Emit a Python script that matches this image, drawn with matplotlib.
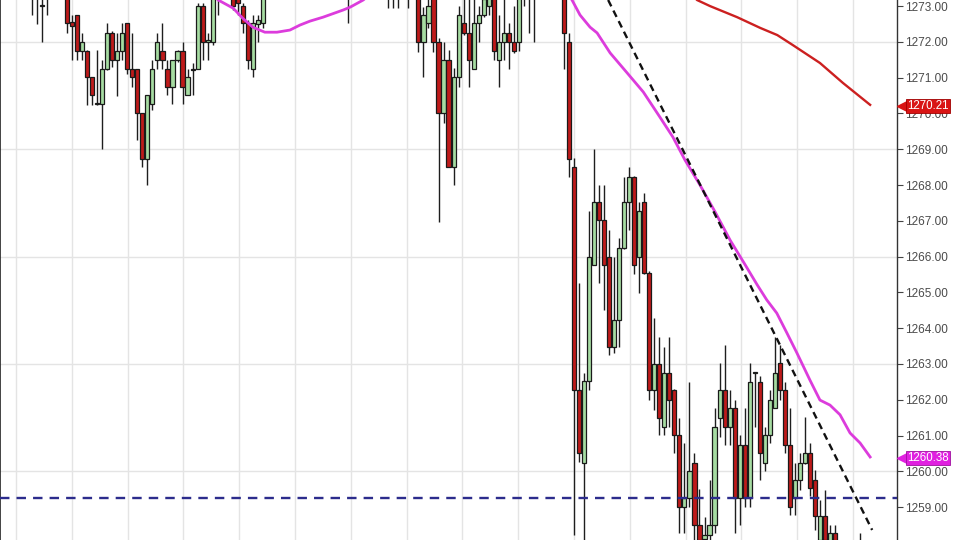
import numpy as np
import matplotlib
matplotlib.use("Agg")
import matplotlib.pyplot as plt
import matplotlib.transforms as mtransforms

plt.rcParams['font.family'] = ['Liberation Sans', 'DejaVu Sans']

# OHLC, one row per 10 candles (index 0..173)
opens = [
    1273.9, 1273.7, 1273.8, 1273.5, 1273.7, 1273.4, 1273.6, 1273.4, 1273.0, 1273.5,
    1273.6, 1273.8, 1273.6, 1273.7, 1272.55, 1272.75, 1271.75, 1271.75, 1271.01, 1270.25,
    1270.25, 1271.24, 1272.26, 1271.49, 1271.75, 1272.52, 1271.24, 1271.24, 1270.0, 1268.74,
    1270.25, 1271.49, 1271.75, 1271.24, 1270.75, 1271.49, 1271.75, 1270.51, 1271.2, 1271.24,
    1273.0, 1272.0, 1272.0, 1273.4, 1273.6, 1273.9, 1273.5, 1273.3, 1273.0, 1272.52,
    1271.24, 1272.5, 1272.52, 1273.4, 1273.8, 1274.1, 1273.9, 1273.7, 1274.0, 1274.3,
    1274.1, 1273.9, 1274.2, 1274.4, 1274.2, 1273.9, 1273.7, 1273.8, 1273.6, 1273.5,
    1273.7, 1274.0, 1274.2, 1274.0, 1273.8, 1273.9, 1273.6, 1273.5, 1273.4, 1273.6,
    1273.5, 1273.7, 1273.6, 1273.4, 1272.0, 1272.52, 1273.4, 1272.0, 1270.0, 1271.49,
    1268.51, 1271.01, 1272.52, 1272.26, 1271.24, 1272.52, 1272.75, 1273.0, 1273.4, 1271.49,
    1272.0, 1272.26, 1272.0, 1272.0, 1273.4, 1273.6, 1273.4, 1273.5, 1273.7, 1273.9,
    1273.6, 1273.8, 1273.6, 1272.0, 1268.51, 1262.27, 1260.23, 1262.51, 1265.77, 1267.53,
    1267.02, 1266.0, 1263.48, 1264.23, 1266.23, 1267.53, 1268.23, 1266.0, 1267.53, 1265.53,
    1262.27, 1263.0, 1261.25, 1262.74, 1262.27, 1261.02, 1259.0, 1259.25, 1260.23, 1258.5,
    1258.1, 1258.23, 1258.5, 1261.48, 1262.27, 1261.25, 1261.76, 1259.25, 1260.74, 1259.25,
    1262.74, 1262.5, 1260.23, 1261.02, 1261.76, 1263.02, 1262.27, 1260.74, 1259.25, 1259.76,
    1260.23, 1260.5, 1259.76, 1258.08, 1258.74, 1257.8, 1258.27, 1257.7, 1257.5, 1257.6,
    1257.4, 1257.6, 1257.8, 1257.6,
]
highs = [
    1274.2, 1274.1, 1274.0, 1273.9, 1274.0, 1273.8, 1273.9, 1273.8, 1273.4, 1273.9,
    1274.0, 1274.2, 1274.0, 1273.9, 1272.75, 1272.75, 1272.24, 1271.77, 1271.01, 1271.77,
    1271.49, 1272.52, 1272.3, 1272.24, 1272.52, 1272.52, 1272.26, 1271.24, 1270.0, 1270.51,
    1271.49, 1272.26, 1272.52, 1271.49, 1271.49, 1271.77, 1272.0, 1271.24, 1271.4, 1273.1,
    1273.1, 1272.24, 1273.6, 1273.8, 1274.1, 1274.2, 1273.7, 1273.5, 1273.1, 1272.6,
    1272.75, 1272.75, 1273.5, 1274.0, 1274.3, 1274.4, 1274.2, 1274.1, 1274.5, 1274.6,
    1274.4, 1274.3, 1274.6, 1274.7, 1274.5, 1274.2, 1274.0, 1274.1, 1273.9, 1273.9,
    1274.2, 1274.4, 1274.5, 1274.3, 1274.1, 1274.2, 1273.9, 1273.8, 1273.7, 1273.9,
    1273.8, 1274.0, 1273.9, 1273.7, 1272.98, 1273.4, 1273.6, 1272.1, 1272.0, 1271.77,
    1271.26, 1273.0, 1273.2, 1273.2, 1273.2, 1273.0, 1273.4, 1273.7, 1273.6, 1272.75,
    1273.3, 1272.52, 1273.0, 1273.6, 1273.8, 1273.9, 1273.8, 1273.9, 1274.1, 1274.2,
    1273.9, 1274.0, 1273.9, 1272.26, 1268.75, 1265.25, 1262.74, 1267.26, 1269.02, 1267.99,
    1267.99, 1266.74, 1266.0, 1266.51, 1268.23, 1268.51, 1268.25, 1267.53, 1267.77, 1265.6,
    1264.28, 1263.76, 1263.48, 1263.76, 1262.3, 1261.48, 1260.78, 1262.5, 1260.5, 1259.5,
    1258.73, 1259.76, 1261.76, 1263.02, 1263.53, 1262.27, 1261.99, 1261.02, 1261.76, 1263.02,
    1262.76, 1262.65, 1261.25, 1262.27, 1263.76, 1263.53, 1262.5, 1261.76, 1260.23, 1260.5,
    1261.53, 1260.78, 1260.04, 1259.2, 1259.48, 1258.5, 1258.5, 1257.95, 1257.9, 1257.95,
    1257.8, 1258.27, 1258.0, 1257.9,
]
lows = [
    1273.5, 1273.4, 1273.4, 1273.3, 1273.3, 1273.2, 1272.75, 1272.5, 1272.0, 1272.75,
    1273.3, 1273.4, 1273.3, 1272.24, 1271.49, 1271.49, 1271.49, 1270.23, 1270.23, 1270.23,
    1269.0, 1271.2, 1271.3, 1270.5, 1271.49, 1271.1, 1270.75, 1269.26, 1268.51, 1268.0,
    1270.1, 1271.24, 1271.24, 1270.51, 1270.25, 1271.45, 1270.25, 1270.51, 1270.51, 1271.24,
    1271.49, 1271.49, 1271.9, 1272.75, 1273.3, 1273.4, 1272.9, 1272.75, 1272.26, 1271.24,
    1271.01, 1272.0, 1272.4, 1273.3, 1273.6, 1273.7, 1273.5, 1273.4, 1273.8, 1273.9,
    1273.7, 1273.6, 1273.9, 1274.0, 1273.8, 1273.5, 1273.4, 1273.4, 1273.3, 1272.52,
    1273.5, 1273.7, 1273.8, 1273.6, 1273.5, 1273.5, 1273.3, 1272.95, 1272.95, 1272.95,
    1273.3, 1272.95, 1273.3, 1271.72, 1271.01, 1272.4, 1271.72, 1266.98, 1269.72, 1268.5,
    1268.0, 1270.75, 1272.2, 1270.75, 1271.24, 1272.0, 1272.7, 1272.75, 1271.49, 1270.75,
    1271.49, 1271.24, 1271.7, 1271.75, 1273.0, 1272.24, 1272.0, 1273.3, 1273.4, 1273.5,
    1273.3, 1273.4, 1271.24, 1268.23, 1258.22, 1260.27, 1257.9, 1262.27, 1265.77, 1265.25,
    1264.51, 1263.25, 1263.3, 1263.48, 1266.2, 1266.74, 1265.5, 1264.97, 1265.5, 1261.99,
    1261.71, 1261.02, 1261.02, 1261.25, 1260.5, 1258.27, 1258.27, 1259.0, 1258.0, 1257.9,
    1257.8, 1258.0, 1258.27, 1260.97, 1260.74, 1260.74, 1258.27, 1258.5, 1259.0, 1259.0,
    1261.25, 1259.76, 1260.0, 1260.78, 1261.76, 1262.0, 1260.5, 1258.78, 1258.78, 1259.48,
    1260.2, 1259.3, 1258.36, 1257.9, 1257.9, 1257.6, 1257.6, 1257.3, 1257.2, 1257.3,
    1257.1, 1257.3, 1257.4, 1257.3,
]
closes = [
    1273.7, 1273.8, 1273.5, 1273.7, 1273.4, 1273.6, 1273.4, 1273.5, 1273.03, 1273.6,
    1273.8, 1273.6, 1273.7, 1272.52, 1272.45, 1271.75, 1272.0, 1271.01, 1270.51, 1270.27,
    1271.24, 1272.26, 1271.49, 1271.75, 1272.26, 1271.24, 1271.01, 1270.0, 1268.74, 1270.51,
    1271.24, 1272.0, 1271.49, 1270.75, 1271.49, 1271.75, 1270.75, 1271.01, 1271.24, 1273.0,
    1272.0, 1272.05, 1273.3, 1273.6, 1273.9, 1273.5, 1273.0, 1273.1, 1272.52, 1271.49,
    1272.52, 1272.6, 1273.3, 1273.8, 1274.1, 1273.9, 1273.7, 1274.0, 1274.3, 1274.1,
    1273.9, 1274.2, 1274.4, 1274.2, 1273.9, 1273.7, 1273.8, 1273.6, 1273.5, 1273.7,
    1274.0, 1274.2, 1274.0, 1273.8, 1273.9, 1273.6, 1273.5, 1273.4, 1273.6, 1273.5,
    1273.7, 1273.6, 1273.4, 1272.0, 1272.75, 1273.0, 1272.0, 1270.0, 1271.49, 1268.51,
    1271.01, 1272.75, 1272.26, 1271.49, 1272.52, 1272.75, 1273.2, 1273.5, 1271.75, 1272.0,
    1272.26, 1272.0, 1271.75, 1273.3, 1273.6, 1273.4, 1273.5, 1273.7, 1273.9, 1273.6,
    1273.8, 1273.6, 1272.26, 1268.74, 1262.27, 1260.5, 1262.51, 1266.0, 1267.53, 1267.02,
    1265.77, 1263.48, 1264.23, 1266.23, 1267.53, 1268.23, 1265.77, 1267.26, 1265.53, 1262.27,
    1263.0, 1261.48, 1262.74, 1261.99, 1261.02, 1259.0, 1259.25, 1260.0, 1258.5, 1258.08,
    1258.23, 1258.5, 1261.25, 1262.27, 1261.25, 1261.76, 1259.25, 1260.74, 1259.25, 1262.5,
    1262.76, 1260.5, 1261.02, 1262.0, 1262.74, 1262.27, 1260.74, 1259.0, 1259.76, 1260.23,
    1260.5, 1259.53, 1258.74, 1258.74, 1258.08, 1258.27, 1257.7, 1257.5, 1257.6, 1257.4,
    1257.6, 1257.8, 1257.6, 1257.7,
]

# moving averages (candle index, price)
ma_fast_left_idx = [41, 43.1, 46.1, 48.0, 50.0, 52.4, 54.8, 57.4, 59.4, 61.4, 64.0, 68.0, 69.4, 72.0, 74]
ma_fast_left_val = [1273.5, 1273.17, 1272.94, 1272.66, 1272.41, 1272.27, 1272.27, 1272.33, 1272.47,
                    1272.58, 1272.69, 1272.89, 1272.97, 1273.17, 1273.4]
ma_fast_right_idx = [112, 113.6, 115.2, 117.2, 118.6, 121.2, 124.6, 127.8, 131.1, 133.7, 136.1, 139.1,
                     142.1, 145.1, 148.1, 150.5, 152.4, 154.4, 156.4, 158.4, 161.0, 163.0, 165.0,
                     167.0, 169.0, 171.0, 173.0]
ma_fast_right_val = [1273.5, 1273.17, 1272.75, 1272.41, 1272.25, 1271.69, 1271.13, 1270.6, 1269.9,
                     1269.34, 1268.7, 1268.0, 1267.25, 1266.46, 1265.77, 1265.21, 1264.79, 1264.42,
                     1263.87, 1263.31, 1262.55, 1261.99, 1261.85, 1261.58, 1261.07, 1260.79, 1260.40]
ma_slow_idx = [136, 138.5, 141.1, 146.5, 151.1, 154.5, 157.6, 163.0, 167.6, 173.0]
ma_slow_val = [1273.6, 1273.17, 1273.0, 1272.69, 1272.39, 1272.19, 1271.91, 1271.41, 1270.85, 1270.24]
ma_slow_last = 1270.21
ma_fast_last = 1260.38

trend_idx = [120.8, 173.4]
trend_val = [1273.17, 1258.36]
support_level = 1259.25

price_ticks = np.arange(1259, 1274)

fig = plt.figure(figsize=(9.6, 5.4), dpi=100)
ax = fig.add_axes([0, 0, 897 / 960, 1])
fig.patch.set_facecolor('white')

idx = np.arange(len(opens))
o = np.array(opens); h = np.array(highs); l = np.array(lows); c = np.array(closes)
up = c >= o

# grid
for gx in 2.8 + 11.12 * np.arange(16):
    ax.axvline(gx, color='#e4e4e4', lw=1, zorder=0)
for gy in [1260, 1263, 1266, 1269, 1272]:
    ax.axhline(gy, color='#e4e4e4', lw=1, zorder=0)

# candles
ax.vlines(idx, l, h, color='#1e1e1e', lw=1, zorder=2)
body_lo = np.minimum(o, c)
body_h = np.maximum(np.abs(c - o), 0.03)
cols = np.where(up, '#a6dca2', '#bf1a1a')
ax.bar(idx, body_h, bottom=body_lo, width=0.82, color=cols,
       edgecolor='#1a1a1a', linewidth=0.9, zorder=3)

# moving averages
ax.plot(ma_fast_left_idx, ma_fast_left_val, color='#dc3cdc', lw=2, zorder=4)
ax.plot(ma_fast_right_idx, ma_fast_right_val, color='#dc3cdc', lw=2, zorder=4)
ax.plot(ma_slow_idx, ma_slow_val, color='#cc2020', lw=1.7, zorder=4)

# trend line and support
ax.plot(trend_idx, trend_val, color='#111111', lw=1.7, ls=(0, (3, 2)), zorder=5)
ax.axhline(support_level, color='#2c2c8c', lw=1.7, ls=(0, (4, 3)), zorder=5)

ax.set_xlim(-1.85 / 5.019, (897 - 1.85) / 5.019)
ax.set_ylim(1258.08, 1273.17)

ax.yaxis.tick_right()
ax.set_yticks(price_ticks)
ax.set_yticklabels(['%.2f' % v for v in price_ticks])
ax.tick_params(axis='y', direction='out', length=4, width=0.8, color='#444444',
               labelsize=8.5, labelcolor='#4a4a4a', pad=2)
ax.set_xticks([])
for s in ['top', 'bottom']:
    ax.spines[s].set_visible(False)
ax.spines['right'].set_color('#333333')
ax.spines['right'].set_linewidth(1)
ax.spines['left'].set_color('#222222')
ax.spines['left'].set_linewidth(1.2)

# last value tags
trans = mtransforms.blended_transform_factory(ax.transAxes, ax.transData)
for val, fc, ec in [(ma_slow_last, '#d91414', '#a00000'), (ma_fast_last, '#e020e0', '#a010a0')]:
    ax.plot([1.006], [val], marker='<', ms=7, color=fc, transform=trans, clip_on=False, zorder=6)
    ax.text(1.011, val, '%.2f' % val, transform=trans, color='white', fontsize=8.3,
            va='center', ha='left', zorder=7,
            bbox=dict(boxstyle='square,pad=0.1', fc=fc, ec=ec, lw=0.6))

fig.savefig('out.png', dpi=100)
